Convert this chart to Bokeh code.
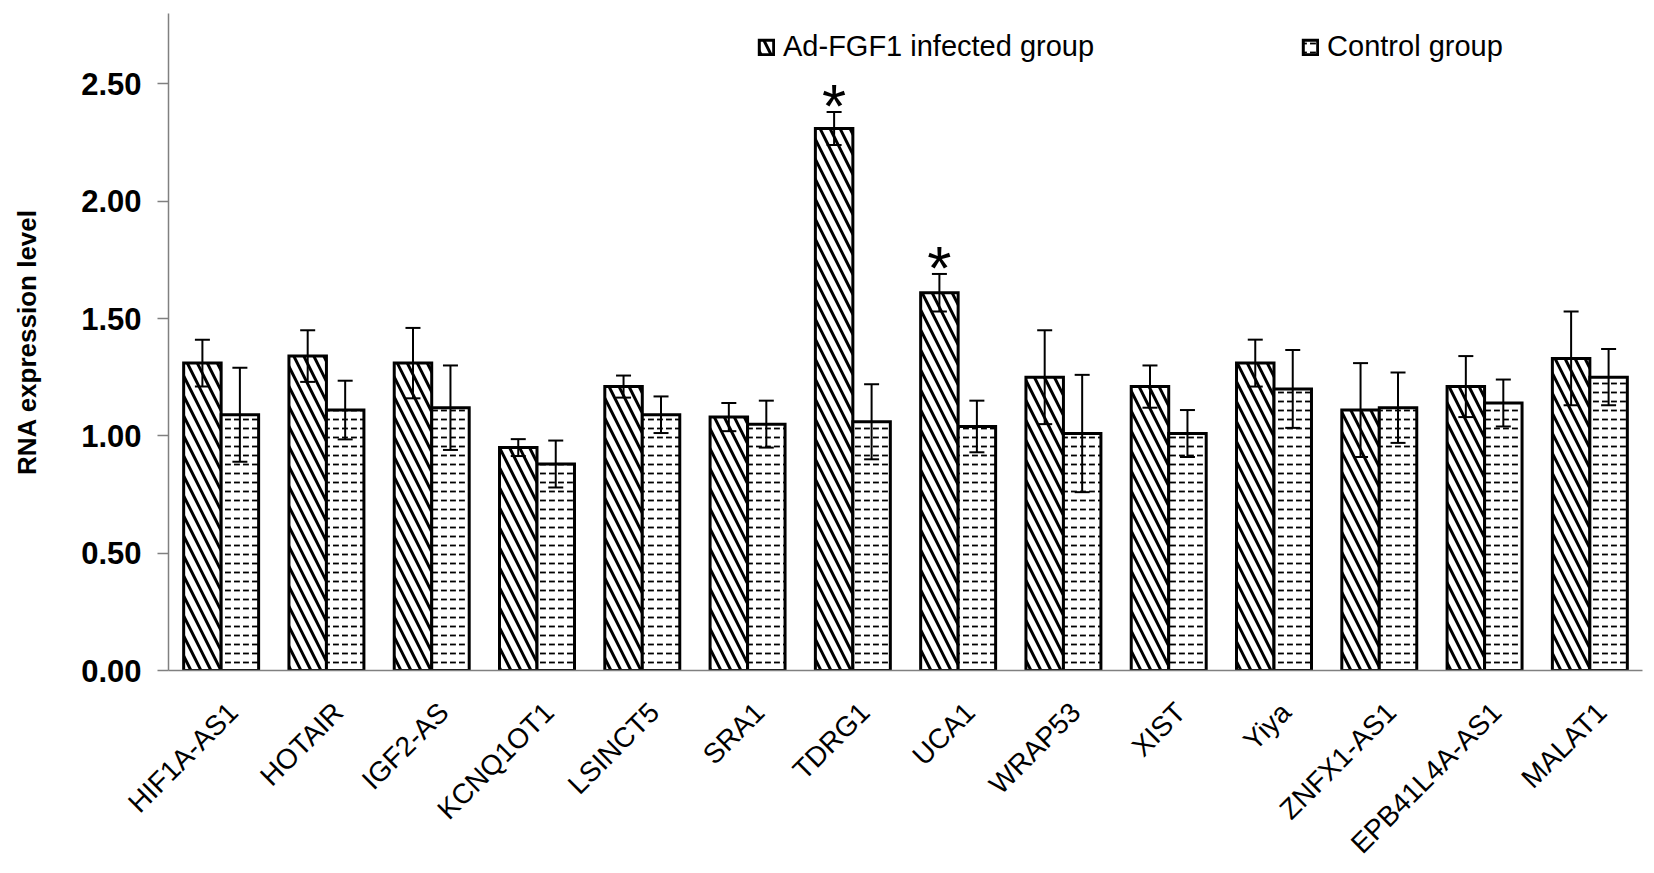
import math
from bokeh.plotting import figure
from bokeh.models import (ColumnDataSource, Range1d, Legend, LegendItem,
                          NumeralTickFormatter, FixedTicker)
from bokeh.transform import dodge
from bokeh.core.properties import value
from bokeh.embed import file_html
from bokeh.resources import INLINE

genes = ["HIF1A-AS1", "HOTAIR", "IGF2-AS", "KCNQ1OT1", "LSINCT5", "SRA1", "TDRG1",
         "UCA1", "WRAP53", "XIST", "Yiya", "ZNFX1-AS1", "EPB41L4A-AS1", "MALAT1"]
fgf1 = [1.31, 1.34, 1.31, 0.95, 1.21, 1.08, 2.31, 1.61, 1.25, 1.21, 1.31, 1.11, 1.21, 1.33]
fgf1_err = [0.10, 0.11, 0.15, 0.036, 0.047, 0.06, 0.07, 0.08, 0.20, 0.09, 0.10, 0.20, 0.13, 0.20]
ctrl = [1.09, 1.11, 1.12, 0.88, 1.09, 1.05, 1.06, 1.04, 1.01, 1.01, 1.20, 1.12, 1.14, 1.25]
ctrl_err = [0.20, 0.125, 0.18, 0.10, 0.078, 0.10, 0.16, 0.11, 0.25, 0.10, 0.166, 0.15, 0.10, 0.12]
y_ticks = [0.0, 0.5, 1.0, 1.5, 2.0, 2.5]
star_genes = ["TDRG1", "UCA1"]
series_names = ["Ad-FGF1 infected group", "Control group"]
y_label = "RNA expression level"

n = len(genes)
pos = [i + 0.5 for i in range(n)]          # category slots on the x scale
src = ColumnDataSource(dict(
    x=pos, gene=genes, fgf1=fgf1, ctrl=ctrl,
    fgf1_up=[v + e for v, e in zip(fgf1, fgf1_err)],
    fgf1_lo=[v - e for v, e in zip(fgf1, fgf1_err)],
    ctrl_up=[v + e for v, e in zip(ctrl, ctrl_err)],
    ctrl_lo=[v - e for v, e in zip(ctrl, ctrl_err)],
))
idx = [genes.index(g) for g in star_genes]
star_src = ColumnDataSource(dict(
    x=[pos[i] for i in idx],
    y=[fgf1[i] + fgf1_err[i] + 0.085 for i in idx],
    t=["*"] * len(star_genes),
))

W, H = 1648, 873
LEFT, RIGHT, TOP, BOTTOM = 168, 6, 13, 199

p = figure(x_range=Range1d(0, n), y_range=Range1d(0, 2.8),
           width=W, height=H, output_backend="svg", toolbar_location=None,
           min_border_left=LEFT, min_border_right=RIGHT, min_border_top=TOP,
           min_border_bottom=BOTTOM)
p.outline_line_color = None
p.xgrid.visible = False
p.ygrid.visible = False

OFF = 0.178
BW = 0.356
xa = dodge("x", -OFF)
xb = dodge("x", OFF)

r1 = p.vbar(x=xa, top="fgf1", width=BW, source=src, fill_color="white",
            line_color="black", line_width=3, line_join="miter",
            hatch_pattern="left_diagonal_line", hatch_color="black",
            hatch_weight=3, hatch_scale=20)
r2 = p.vbar(x=xb, top="ctrl", width=BW, source=src, fill_color="white",
            line_color="black", line_width=3, line_join="miter",
            hatch_pattern="horizontal_dash", hatch_color="black",
            hatch_weight=1.8, hatch_scale=9)

for xx, up, lo in [(xa, "fgf1_up", "fgf1_lo"), (xb, "ctrl_up", "ctrl_lo")]:
    p.segment(x0=xx, x1=xx, y0=lo, y1=up, source=src, line_color="black", line_width=2)
    p.scatter(x=xx, y=up, source=src, marker="dash", size=15, line_color="black", line_width=2)
    p.scatter(x=xx, y=lo, source=src, marker="dash", size=15, line_color="black", line_width=2)

p.text(x=dodge("x", -OFF), y="y", text="t", source=star_src,
       text_font=value("Liberation Sans"), text_font_size=value("62px"),
       text_align="center", text_baseline="middle", y_offset=13, text_color="black")

# category labels: ticks at the slot centres, nudged a little right like the reference
SHIFT = 0.114
lab_ticks = [round(x + SHIFT, 3) for x in pos]
xax = p.xaxis[0]
xax.ticker = FixedTicker(ticks=lab_ticks)
xax.major_label_overrides = {t: g for t, g in zip(lab_ticks, genes)}
xax.axis_line_color = "#808080"
xax.axis_line_width = 1.5
xax.major_tick_line_color = None
xax.minor_tick_line_color = None
xax.major_tick_out = 0
xax.major_tick_in = 0
xax.major_label_orientation = math.pi / 4
xax.major_label_standoff = 37
xax.major_label_text_font = "Liberation Sans"
xax.major_label_text_font_size = "28px"
xax.major_label_text_color = "black"

ya = p.yaxis[0]
ya.ticker = FixedTicker(ticks=y_ticks)
ya.formatter = NumeralTickFormatter(format="0.00")
ya.axis_line_color = "#808080"
ya.axis_line_width = 1.5
ya.major_tick_line_color = "#808080"
ya.major_tick_line_width = 1.5
ya.major_tick_out = 11
ya.major_tick_in = 0
ya.minor_tick_line_color = None
ya.major_label_standoff = 16
ya.major_label_text_font = "Liberation Sans"
ya.major_label_text_font_style = "bold"
ya.major_label_text_font_size = "31px"
ya.major_label_text_color = "black"
ya.axis_label = y_label
ya.axis_label_text_font = "Liberation Sans"
ya.axis_label_text_font_style = "bold"
ya.axis_label_text_font_size = "26px"
ya.axis_label_text_color = "black"
ya.axis_label_standoff = 36

legend = Legend(items=[LegendItem(label=series_names[0], renderers=[r1]),
                       LegendItem(label=series_names[1], renderers=[r2])],
                orientation="horizontal", location=(589, 607), spacing=207,
                label_standoff=8, glyph_width=18, glyph_height=18, padding=0, margin=0,
                border_line_color=None, background_fill_alpha=0,
                label_text_font="Liberation Sans", label_text_font_size="29px",
                label_text_color="black")
p.add_layout(legend)

open("out.html", "w").write(file_html(p, INLINE))
